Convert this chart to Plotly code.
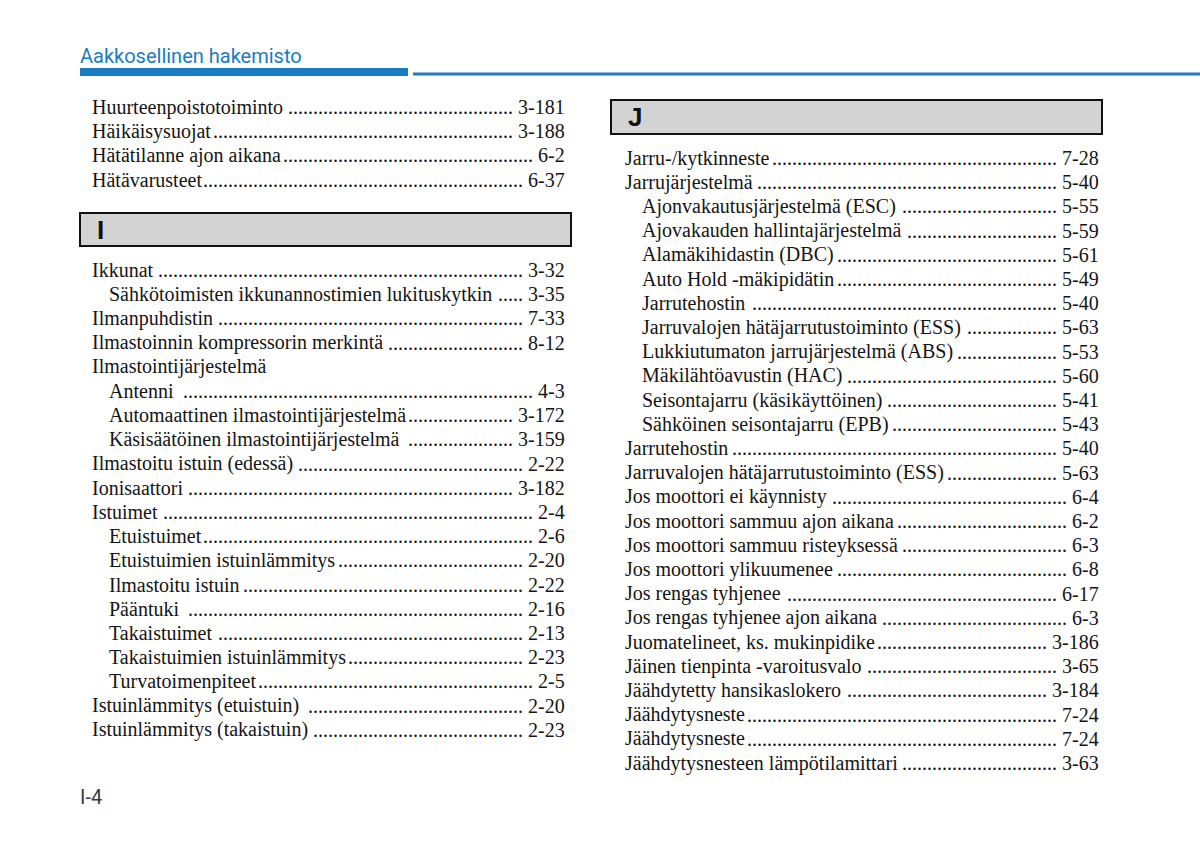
import plotly.graph_objects as go
import math

# ---------------- data ----------------
header_title = "Aakkosellinen hakemisto"
page_label = "I-4"

left_top_labels = ["Huurteenpoistotoiminto ", "Häikäisysuojat", "Hätätilanne ajon aikana", "Hätävarusteet"]
left_top_pages = ["3-181", "3-188", "6-2", "6-37"]
left_top_levels = [0, 0, 0, 0]

section_I = "I"
left_I_labels = [
    "Ikkunat ", "Sähkötoimisten ikkunannostimien lukituskytkin ", "Ilmanpuhdistin ",
    "Ilmastoinnin kompressorin merkintä ", "Ilmastointijärjestelmä", "Antenni ",
    "Automaattinen ilmastointijärjestelmä", "Käsisäätöinen ilmastointijärjestelmä ",
    "Ilmastoitu istuin (edessä) ", "Ionisaattori ", "Istuimet ", "Etuistuimet",
    "Etuistuimien istuinlämmitys", "Ilmastoitu istuin", "Pääntuki ", "Takaistuimet",
    "Takaistuimien istuinlämmitys", "Turvatoimenpiteet", "Istuinlämmitys (etuistuin) ",
    "Istuinlämmitys (takaistuin) ",
]
left_I_pages = ["3-32", "3-35", "7-33", "8-12", "", "4-3", "3-172", "3-159", "2-22", "3-182",
                "2-4", "2-6", "2-20", "2-22", "2-16", "2-13", "2-23", "2-5", "2-20", "2-23"]
left_I_levels = [0, 1, 0, 0, 0, 1, 1, 1, 0, 0, 0, 1, 1, 1, 1, 1, 1, 1, 0, 0]

section_J = "J"
right_J_labels = [
    "Jarru-/kytkinneste", "Jarrujärjestelmä", "Ajonvakautusjärjestelmä (ESC) ",
    "Ajovakauden hallintajärjestelmä ", "Alamäkihidastin (DBC)", "Auto Hold -mäkipidätin",
    "Jarrutehostin ", "Jarruvalojen hätäjarrutustoiminto (ESS) ", "Lukkiutumaton jarrujärjestelmä (ABS)",
    "Mäkilähtöavustin (HAC)", "Seisontajarru (käsikäyttöinen)", "Sähköinen seisontajarru (EPB)",
    "Jarrutehostin", "Jarruvalojen hätäjarrutustoiminto (ESS)", "Jos moottori ei käynnisty ",
    "Jos moottori sammuu ajon aikana", "Jos moottori sammuu risteyksessä", "Jos moottori ylikuumenee",
    "Jos rengas tyhjenee ", "Jos rengas tyhjenee ajon aikana ", "Juomatelineet, ks. mukinpidike",
    "Jäinen tienpinta -varoitusvalo ", "Jäähdytetty hansikaslokero ", "Jäähdytysneste",
    "Jäähdytysneste", "Jäähdytysnesteen lämpötilamittari",
]
right_J_pages = ["7-28", "5-40", "5-55", "5-59", "5-61", "5-49", "5-40", "5-63", "5-53", "5-60",
                 "5-41", "5-43", "5-40", "5-63", "6-4", "6-2", "6-3", "6-8", "6-17", "6-3",
                 "3-186", "3-65", "3-184", "7-24", "7-24", "3-63"]
right_J_levels = [0, 0, 1, 1, 1, 1, 1, 1, 1, 1, 1, 1, 0, 0, 0, 0, 0, 0, 0, 0, 0, 0, 0, 0, 0, 0]

# ---------------- style / layout constants ----------------
W, H = 1200, 845
BLUE = "#1a7cc2"
TXT = "#141414"
SERIF = "Liberation Serif"
FS = 20
ROW = 24.2
INDENT = 17

# Times-compatible advance widths (per 1000 em) used to place the dot leaders
_TW = {" ": 250, "(": 333, ")": 333, ",": 250, "-": 333, ".": 250, "/": 278,
       "A": 722, "B": 667, "C": 667, "D": 722, "E": 611, "H": 722, "I": 333, "J": 389,
       "K": 722, "L": 611, "M": 889, "O": 722, "P": 556, "R": 667, "S": 556, "T": 611,
       "a": 444, "b": 500, "c": 444, "d": 500, "e": 444, "f": 333, "g": 500, "h": 500,
       "i": 278, "j": 278, "k": 500, "l": 278, "m": 778, "n": 500, "o": 500, "p": 500,
       "r": 333, "s": 389, "t": 278, "u": 500, "v": 500, "y": 500, "ä": 444, "ö": 500}


def text_w(s):
    return sum(_TW.get(c, 500) for c in s) / 1000.0 * FS


annotations = []
shapes = []


def add_column(labels, pages, levels, x0, xr, y_start):
    for i, (lab, pg, lv) in enumerate(zip(labels, pages, levels)):
        y = y_start + i * ROW
        xl = x0 + lv * INDENT
        annotations.append(dict(
            x=xl, y=y, xref="x", yref="y", xanchor="left", yanchor="middle",
            text=lab.rstrip(), showarrow=False, borderpad=0,
            font=dict(family=SERIF, size=FS, color=TXT)))
        if pg:
            tail = " " + pg
            avail = xr - text_w(tail) - (xl + text_w(lab)) - 2
            n = int(math.floor(avail / (0.25 * FS)))
            annotations.append(dict(
                x=xr, y=y, xref="x", yref="y", xanchor="right", yanchor="middle",
                text="." * n + tail, showarrow=False, borderpad=0,
                font=dict(family=SERIF, size=FS, color=TXT)))


def add_section(letter, x0, x1, y0, y1):
    shapes.append(dict(type="rect", xref="x", yref="y", x0=x0, x1=x1, y0=y0, y1=y1,
                       fillcolor="#d3d3d3", line=dict(color="#111111", width=2), layer="below"))
    annotations.append(dict(x=x0 + 15, y=(y0 + y1) / 2, xref="x", yref="y", xanchor="left",
                            yanchor="middle", text="<b>%s</b>" % letter, showarrow=False,
                            font=dict(family="Liberation Sans", size=26, color="#111111")))


# left column
add_column(left_top_labels, left_top_pages, left_top_levels, 91, 566, 107)
add_section(section_I, 80, 571, 213, 246)
add_column(left_I_labels, left_I_pages, left_I_levels, 91, 566, 270)
# right column
add_section(section_J, 611, 1102, 100, 134)
add_column(right_J_labels, right_J_pages, right_J_levels, 624, 1100, 158)

# header
annotations.append(dict(x=78, y=56, xref="x", yref="y", xanchor="left", yanchor="middle",
                        text=header_title, showarrow=False,
                        font=dict(family="Roboto", size=20, color=BLUE)))
shapes.append(dict(type="rect", xref="x", yref="y", x0=80, x1=408, y0=68, y1=76,
                   fillcolor=BLUE, line=dict(width=0)))
shapes.append(dict(type="rect", xref="x", yref="y", x0=413, x1=1200, y0=72.5, y1=75.5,
                   fillcolor=BLUE, line=dict(width=0)))
# page number
annotations.append(dict(x=78, y=797, xref="x", yref="y", xanchor="left", yanchor="middle",
                        text=page_label, showarrow=False,
                        font=dict(family="Roboto", size=20, color="#3a3a3a")))

fig = go.Figure()
fig.update_layout(
    width=W, height=H,
    margin=dict(l=0, r=0, t=0, b=0),
    paper_bgcolor="white", plot_bgcolor="white",
    xaxis=dict(range=[0, W], visible=False, fixedrange=True),
    yaxis=dict(range=[H, 0], visible=False, fixedrange=True),
    shapes=shapes,
    annotations=annotations,
    showlegend=False,
)

fig.write_html("out.html", config={"displayModeBar": False},
               post_script="document.body.style.margin='0px';document.body.style.overflow='hidden';")
